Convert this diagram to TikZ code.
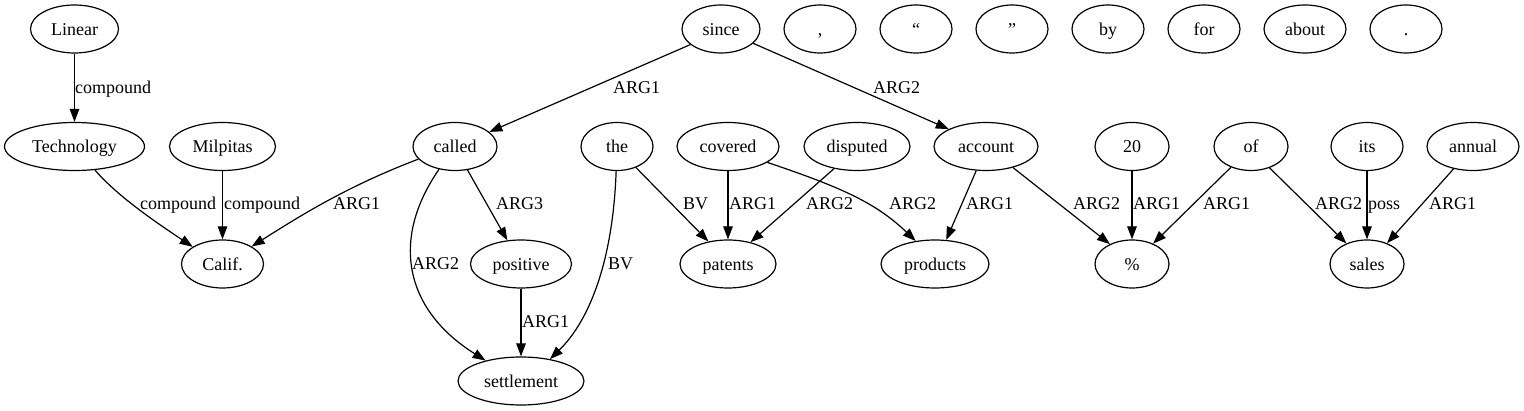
\documentclass[tikz,border=0pt]{standalone}
\usepackage{fontspec}
\setmainfont{Liberation Serif}
\usetikzlibrary{shapes.geometric,arrows.meta}
\begin{document}
\begin{tikzpicture}[x=1pt,y=1pt,font=\fontsize{18}{22}\selectfont,
  tok/.style={ellipse,draw,line width=1.2pt,inner sep=0pt,minimum height=48pt,text height=13pt,text depth=0pt},
  lbl/.style={anchor=west,inner sep=0pt,text height=12pt,text depth=0pt},
  lnk/.style={line width=1.2pt,-{Triangle[length=13pt,width=9.5pt]}}]
\useasboundingbox[fill=white] (0,0) rectangle (1524,-411);
% row 1
\node[tok,minimum width=88pt] (Linear) at (74.5,-29) {Linear};
\node[tok,minimum width=78pt] (since) at (721,-29) {since};
\node[tok,minimum width=72pt] (comma) at (820,-29) {,};
\node[tok,minimum width=72pt] (lq) at (916,-29) {“};
\node[tok,minimum width=72pt] (rq) at (1012,-29) {”};
\node[tok,minimum width=72pt] (by) at (1108,-29) {by};
\node[tok,minimum width=72pt] (for) at (1204,-29) {for};
\node[tok,minimum width=82pt] (about) at (1305,-29) {about};
\node[tok,minimum width=72pt] (period) at (1406,-29) {.};
% row 2
\node[tok,minimum width=140pt] (Technology) at (74.5,-146.5) {Technology};
\node[tok,minimum width=106pt] (Milpitas) at (222.5,-146.5) {Milpitas};
\node[tok,minimum width=84pt] (called) at (455,-146.5) {called};
\node[tok,minimum width=72pt] (the) at (617,-146.5) {the};
\node[tok,minimum width=102pt] (covered) at (728,-146.5) {covered};
\node[tok,minimum width=106pt] (disputed) at (857,-146.5) {disputed};
\node[tok,minimum width=104pt] (account) at (986,-146.5) {account};
\node[tok,minimum width=74pt] (twenty) at (1132,-146.5) {20};
\node[tok,minimum width=74pt] (of) at (1251,-146.5) {of};
\node[tok,minimum width=72pt] (its) at (1367,-146.5) {its};
\node[tok,minimum width=92pt] (annual) at (1473,-146.5) {annual};
% row 3
\node[tok,minimum width=82pt] (Calif) at (222.5,-264) {Calif.};
\node[tok,minimum width=101pt] (positive) at (521,-264) {positive};
\node[tok,minimum width=96pt] (patents) at (728,-264) {patents};
\node[tok,minimum width=108pt] (products) at (935,-264) {products};
\node[tok,minimum width=74pt] (pct) at (1132,-264) {\%};
\node[tok,minimum width=74pt] (sales) at (1367,-264) {sales};
% row 4
\node[tok,minimum width=126pt] (settlement) at (521,-381) {settlement};
% edges
\draw[lnk] (Linear) -- (Technology);
\draw[lnk] (Technology.-49) .. controls (118,-197) and (160,-225) .. (Calif.150);
\draw[lnk] (Milpitas) -- (Calif);
\draw[lnk] (called.199) .. controls (348,-186) and (303,-214) .. (Calif.31.5);
\draw[lnk] (since.207) -- (called.23);
\draw[lnk] (since.-24) -- (account.155);
\draw[lnk] (called.-125) .. controls (390,-240) and (405,-310) .. (settlement.150);
\draw[lnk] (called.-62) -- (positive.120);
\draw[lnk] (positive) -- (settlement);
\draw[lnk] (the.-92) .. controls (613,-260) and (590,-320) .. (settlement.37);
\draw[lnk] (the.-48) -- (patents.131);
\draw[lnk] (covered) -- (patents);
\draw[lnk] (disputed.224) -- (patents.44);
\draw[lnk] (covered.-22) .. controls (840,-187) and (875,-202) .. (products.130);
\draw[lnk] (account.-112) -- (products.65);
\draw[lnk] (account.-38) -- (pct.138);
\draw[lnk] (twenty) -- (pct);
\draw[lnk] (of.226) -- (pct.44);
\draw[lnk] (of.-49) -- (sales.135);
\draw[lnk] (its) -- (sales);
\draw[lnk] (annual.229) -- (sales.46);
% labels
\node[lbl] (l1) at (75,-88) {compound};
\node[lbl] (l2) at (140,-204) {compound};
\node[lbl] (l3) at (224,-204) {compound};
\node[lbl] (l4) at (333,-204) {ARG1};
\node[lbl] (l5) at (613,-88) {ARG1};
\node[lbl] (l6) at (873,-88) {ARG2};
\node[lbl] (l7) at (412,-264) {ARG2};
\node[lbl] (l8) at (496,-204) {ARG3};
\node[lbl] (l9) at (522,-322) {ARG1};
\node[lbl] (l10) at (608,-264) {BV};
\node[lbl] (l11) at (683,-204) {BV};
\node[lbl] (l12) at (729,-204) {ARG1};
\node[lbl] (l13) at (806,-204) {ARG2};
\node[lbl] (l14) at (889,-204) {ARG2};
\node[lbl] (l15) at (966,-204) {ARG1};
\node[lbl] (l16) at (1073,-204) {ARG2};
\node[lbl] (l17) at (1133,-204) {ARG1};
\node[lbl] (l18) at (1203,-204) {ARG1};
\node[lbl] (l19) at (1315,-204) {ARG2};
\node[lbl] (l20) at (1368,-204) {poss};
\node[lbl] (l21) at (1429,-204) {ARG1};
\end{tikzpicture}
\end{document}
